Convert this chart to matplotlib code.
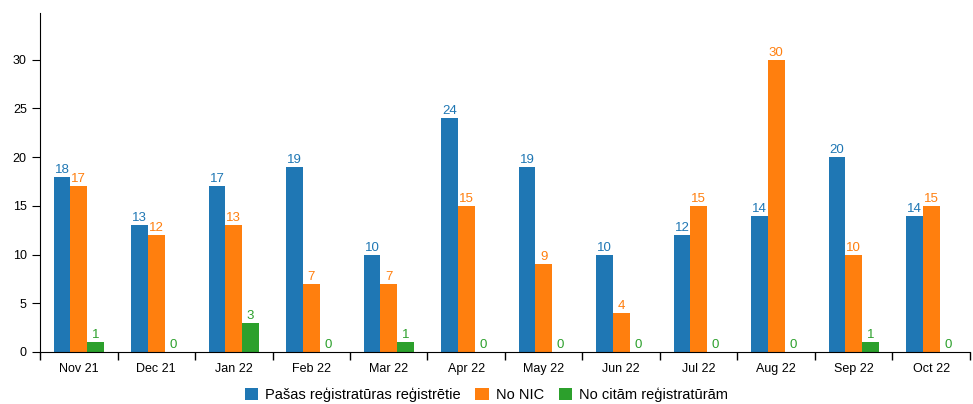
import numpy as np
import matplotlib.pyplot as plt

months = ['Nov 21', 'Dec 21', 'Jan 22', 'Feb 22', 'Mar 22', 'Apr 22',
          'May 22', 'Jun 22', 'Jul 22', 'Aug 22', 'Sep 22', 'Oct 22']
pasas = [18, 13, 17, 19, 10, 24, 19, 10, 12, 14, 20, 14]
no_nic = [17, 12, 13, 7, 7, 15, 9, 4, 15, 30, 10, 15]
no_citam = [1, 0, 3, 0, 1, 0, 0, 0, 0, 0, 1, 0]

names = ['Pašas reģistratūras reģistrētie', 'No NIC', 'No citām reģistratūrām']
colors = ['#1f77b4', '#ff7f0e', '#2ca02c']

plt.rcParams['font.family'] = ['Liberation Sans', 'DejaVu Sans']

fig = plt.figure(figsize=(9.73, 4.04), dpi=100)
ax = fig.add_axes([40/973, 1-352/404, 930/973, 339/404])

x = np.arange(len(months))
w = 0.215
series = [pasas, no_nic, no_citam]
for i, (vals, c, nm) in enumerate(zip(series, colors, names)):
    pos = x + (i - 1) * w
    ax.bar(pos, vals, width=w, color=c, label=nm)
    for p, v in zip(pos, vals):
        ax.text(p, v + 0.1, str(v), ha='center', va='bottom', color=c, fontsize=9.5)

ax.set_xlim(-0.5, len(months) - 0.5)
ax.set_ylim(0, 34.8)
ax.set_yticks([0, 5, 10, 15, 20, 25, 30])
ax.set_xticks(x)
ax.set_xticklabels(months, fontsize=9)
ax.set_xticks(np.arange(-0.5, len(months), 1), minor=True)
ax.tick_params(axis='x', which='major', length=0, pad=8)
ax.tick_params(axis='x', which='minor', length=6, width=1)
ax.tick_params(axis='y', labelsize=9, length=6)
ax.spines['top'].set_visible(False)
ax.spines['right'].set_visible(False)

ax.legend(loc='center', bbox_to_anchor=(0.48, -0.127), ncol=3, frameon=False,
          fontsize=10.5, handlelength=0.9, handleheight=0.9, handletextpad=0.5,
          columnspacing=1.0, borderpad=0.1)

fig.savefig('out.png', dpi=100)
